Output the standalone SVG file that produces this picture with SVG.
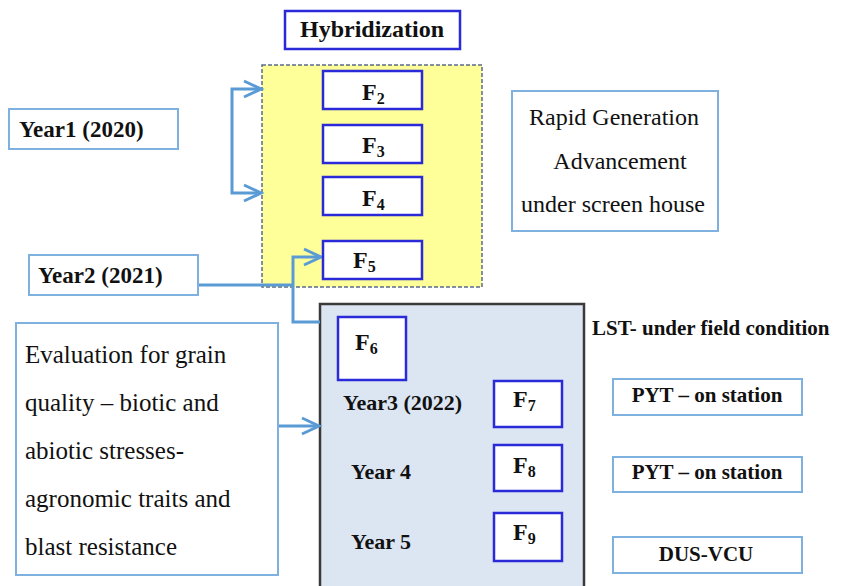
<svg xmlns="http://www.w3.org/2000/svg" width="845" height="586" viewBox="0 0 845 586">
<g id="yellow-area"><rect x="262" y="65" width="220" height="222" fill="#ffff99" stroke="#5b6b8c" stroke-width="1.5" stroke-dasharray="4,2"/></g>
<g id="blue-area"><rect x="320" y="304" width="264" height="290" fill="#dce6f2" stroke="#3a3a3a" stroke-width="2.5"/></g>
<g id="connectors" fill="none" stroke="#5b9bd5" stroke-width="3">
<path d="M260,89 H232 V193 H260"/>
<path d="M244,81 L261,89 L244,97"/>
<path d="M244,185 L261,193 L244,201"/>
<path d="M198,285 H293"/>
<path d="M320,322 H293 V257 H320"/>
<path d="M304,249 L321,257 L304,265"/>
<path d="M278,426 H318"/>
<path d="M302,418 L319,426 L302,434"/>
</g>
<g id="hybridization"><rect x="285" y="11" width="175" height="38" fill="#fff" stroke="#2a2ad8" stroke-width="2.5"/><text font-family="Liberation Serif" font-weight="bold" x="372" y="37" text-anchor="middle" font-size="24" fill="#111">Hybridization</text></g>
<g id="year1"><rect x="9" y="109" width="169" height="40" fill="#fff" stroke="#7eb0e0" stroke-width="2"/><text font-family="Liberation Serif" font-weight="bold" x="19" y="137" font-size="23" fill="#111">Year1 (2020)</text></g>
<g id="year2"><rect x="29" y="255" width="169" height="40" fill="#fff" stroke="#7eb0e0" stroke-width="2"/><text font-family="Liberation Serif" font-weight="bold" x="38" y="283" font-size="23" fill="#111">Year2 (2021)</text></g>
<g id="f2"><rect x="323" y="71" width="99" height="38" fill="#fff" stroke="#2a2ad8" stroke-width="2.5"/><text font-family="Liberation Serif" font-weight="bold" font-size="24" fill="#111" x="362" y="100">F<tspan font-size="16" dy="4">2</tspan></text></g>
<g id="f3"><rect x="323" y="125" width="99" height="38" fill="#fff" stroke="#2a2ad8" stroke-width="2.5"/><text font-family="Liberation Serif" font-weight="bold" font-size="24" fill="#111" x="362" y="153">F<tspan font-size="16" dy="4">3</tspan></text></g>
<g id="f4"><rect x="323" y="177" width="99" height="38" fill="#fff" stroke="#2a2ad8" stroke-width="2.5"/><text font-family="Liberation Serif" font-weight="bold" font-size="24" fill="#111" x="362" y="206">F<tspan font-size="16" dy="4">4</tspan></text></g>
<g id="f5"><rect x="323" y="241" width="99" height="38" fill="#fff" stroke="#2a2ad8" stroke-width="2.5"/><text font-family="Liberation Serif" font-weight="bold" font-size="24" fill="#111" x="353" y="268">F<tspan font-size="16" dy="4">5</tspan></text></g>
<g id="rapid"><rect x="512" y="91" width="206" height="140" fill="#fff" stroke="#7eb0e0" stroke-width="2"/>
<text font-family="Liberation Serif" x="614" y="125" text-anchor="middle" font-size="24" fill="#111">Rapid Generation</text>
<text font-family="Liberation Serif" x="620" y="169" text-anchor="middle" font-size="24" fill="#111">Advancement</text>
<text font-family="Liberation Serif" x="613" y="212" text-anchor="middle" font-size="24" fill="#111">under screen house</text></g>
<g id="evaluation"><rect x="16" y="323" width="262" height="252" fill="#fff" stroke="#7eb0e0" stroke-width="2"/>
<text font-family="Liberation Serif" x="25" y="363" font-size="25" fill="#111">Evaluation for grain</text>
<text font-family="Liberation Serif" x="25" y="411" font-size="25" fill="#111">quality &#8211; biotic and</text>
<text font-family="Liberation Serif" x="25" y="459" font-size="25" fill="#111">abiotic stresses-</text>
<text font-family="Liberation Serif" x="25" y="507" font-size="25" fill="#111">agronomic traits and</text>
<text font-family="Liberation Serif" x="25" y="555" font-size="25" fill="#111">blast resistance</text></g>
<g id="f6"><rect x="338" y="317" width="68" height="63" fill="#fff" stroke="#2a2ad8" stroke-width="2.5"/><text font-family="Liberation Serif" font-weight="bold" font-size="24" fill="#111" x="355" y="350">F<tspan font-size="16" dy="4">6</tspan></text></g>
<g id="year3"><text font-family="Liberation Serif" font-weight="bold" x="343" y="410" font-size="22" fill="#111">Year3 (2022)</text></g>
<g id="year4"><text font-family="Liberation Serif" font-weight="bold" x="351" y="479" font-size="22" fill="#111">Year 4</text></g>
<g id="year5"><text font-family="Liberation Serif" font-weight="bold" x="351" y="549" font-size="22" fill="#111">Year 5</text></g>
<g id="f7"><rect x="494" y="381" width="68" height="46" fill="#fff" stroke="#2a2ad8" stroke-width="2.5"/><text font-family="Liberation Serif" font-weight="bold" font-size="24" fill="#111" x="513" y="407">F<tspan font-size="16" dy="4">7</tspan></text></g>
<g id="f8"><rect x="494" y="445" width="68" height="46" fill="#fff" stroke="#2a2ad8" stroke-width="2.5"/><text font-family="Liberation Serif" font-weight="bold" font-size="24" fill="#111" x="513" y="473">F<tspan font-size="16" dy="4">8</tspan></text></g>
<g id="f9"><rect x="494" y="513" width="68" height="48" fill="#fff" stroke="#2a2ad8" stroke-width="2.5"/><text font-family="Liberation Serif" font-weight="bold" font-size="24" fill="#111" x="513" y="540">F<tspan font-size="16" dy="4">9</tspan></text></g>
<g id="lst"><text font-family="Liberation Serif" font-weight="bold" x="592" y="335" font-size="21" fill="#111">LST- under field condition</text></g>
<g id="pyt1"><rect x="613" y="379" width="189" height="36" fill="#fff" stroke="#7eb0e0" stroke-width="2"/><text font-family="Liberation Serif" font-weight="bold" x="707" y="402" text-anchor="middle" font-size="21" fill="#111">PYT &#8211; on station</text></g>
<g id="pyt2"><rect x="613" y="457" width="189" height="35" fill="#fff" stroke="#7eb0e0" stroke-width="2"/><text font-family="Liberation Serif" font-weight="bold" x="707" y="479" text-anchor="middle" font-size="21" fill="#111">PYT &#8211; on station</text></g>
<g id="dus"><rect x="613" y="537" width="189" height="36" fill="#fff" stroke="#7eb0e0" stroke-width="2"/><text font-family="Liberation Serif" font-weight="bold" x="706" y="561" text-anchor="middle" font-size="21" fill="#111">DUS-VCU</text></g>
</svg>
